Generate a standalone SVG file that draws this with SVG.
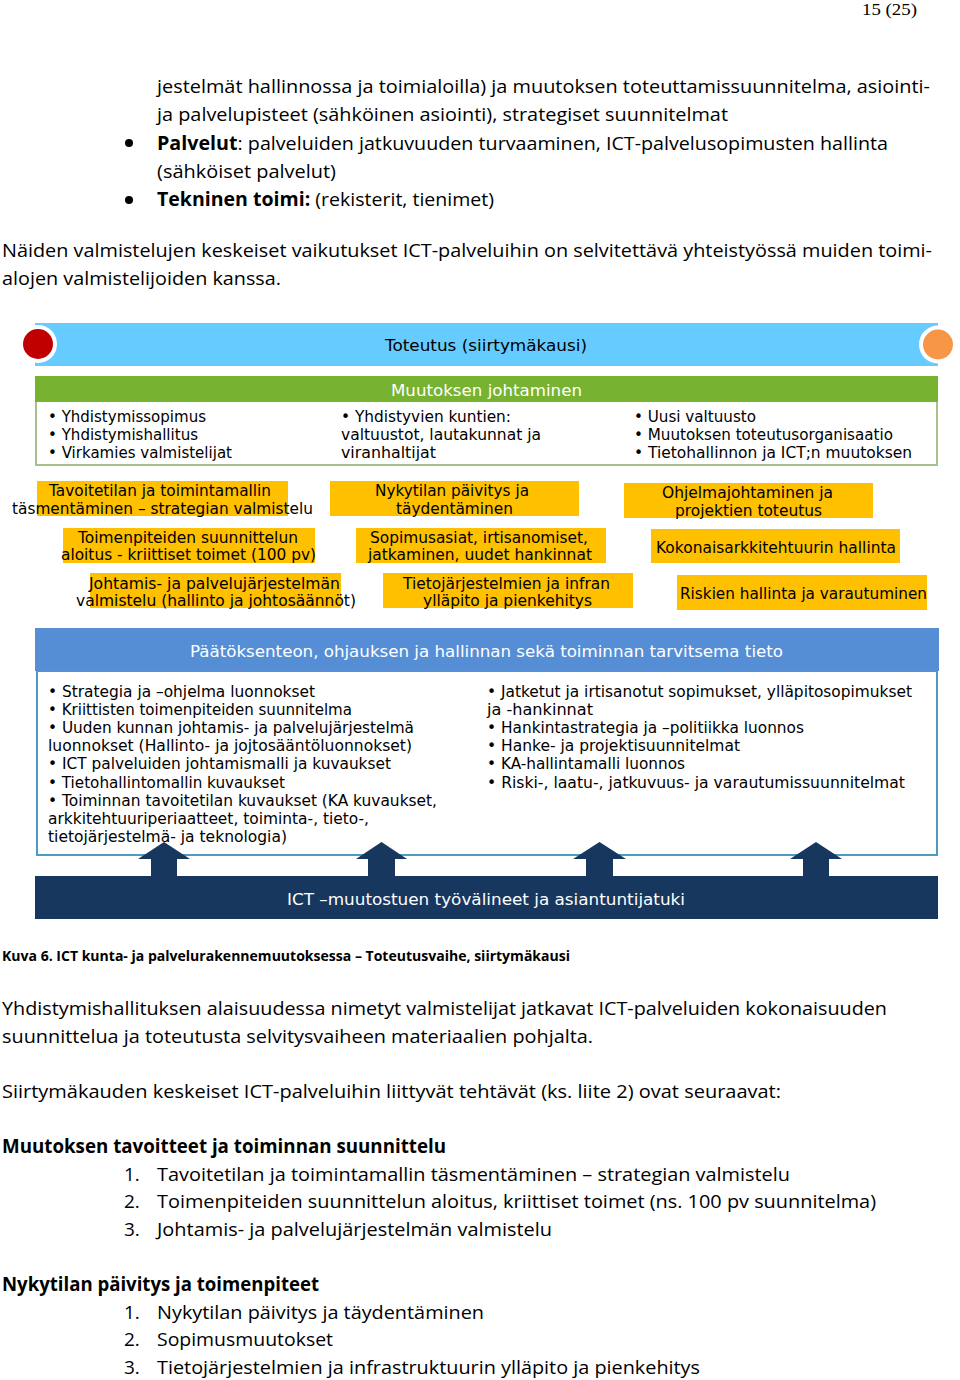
<svg xmlns="http://www.w3.org/2000/svg" width="960" height="1380" viewBox="0 0 960 1380">
<style>
.pg{font-family:"Liberation Serif",serif;font-size:16px;fill:#000}
.b{font-family:"Open Sans","Liberation Sans",sans-serif;font-size:19px;fill:#000}
.bb{font-family:"Open Sans","Liberation Sans",sans-serif;font-size:19px;font-weight:bold;fill:#000}
.cap{font-family:"Open Sans","Liberation Sans",sans-serif;font-size:13.5px;font-weight:bold;fill:#000}
.d{font-family:"DejaVu Sans","Verdana",sans-serif;font-size:15.5px;fill:#000}
.dw{font-family:"DejaVu Sans","Verdana",sans-serif;font-size:16px;fill:#fff}
.dk{font-family:"DejaVu Sans","Verdana",sans-serif;font-size:16px;fill:#000}
.y{fill:#FFC000}
.arrow{fill:#17375E}
</style>

<g id="page-text">
<text class="pg" x="862" y="15" textLength="55" lengthAdjust="spacingAndGlyphs">15 (25)</text>
<text class="b" x="157" y="93" textLength="773" lengthAdjust="spacingAndGlyphs">jestelmät hallinnossa ja toimialoilla) ja muutoksen toteuttamissuunnitelma, asiointi-</text>
<text class="b" x="157" y="121" textLength="571" lengthAdjust="spacingAndGlyphs">ja palvelupisteet (sähköinen asiointi), strategiset suunnitelmat</text>
<circle cx="129" cy="143" r="4" fill="#000"/>
<text class="b" x="157" y="150" textLength="731" lengthAdjust="spacingAndGlyphs"><tspan font-weight="bold">Palvelut</tspan>: palveluiden jatkuvuuden turvaaminen, ICT-palvelusopimusten hallinta</text>
<text class="b" x="157" y="178" textLength="179" lengthAdjust="spacingAndGlyphs">(sähköiset palvelut)</text>
<circle cx="129" cy="200" r="4" fill="#000"/>
<text class="b" x="157" y="206" textLength="337" lengthAdjust="spacingAndGlyphs"><tspan font-weight="bold">Tekninen toimi:</tspan> (rekisterit, tienimet)</text>
<text class="b" x="2" y="257" textLength="930" lengthAdjust="spacingAndGlyphs">Näiden valmistelujen keskeiset vaikutukset ICT-palveluihin on selvitettävä yhteistyössä muiden toimi-</text>
<text class="b" x="2" y="285" textLength="279" lengthAdjust="spacingAndGlyphs">alojen valmistelijoiden kanssa.</text>
</g>

<g id="toteutus-banner">
<rect x="35" y="323" width="903" height="43" fill="#66CCFF"/>
<circle cx="38" cy="344" r="19" fill="#fff"/>
<circle cx="38" cy="344" r="15" fill="#C00000"/>
<circle cx="938" cy="344.5" r="19" fill="#fff"/>
<circle cx="938" cy="344.5" r="15" fill="#F79646"/>
<text class="dk" x="385" y="351" textLength="202" lengthAdjust="spacingAndGlyphs">Toteutus (siirtymäkausi)</text>
</g>

<g id="muutoksen-johtaminen">
<rect x="36" y="401" width="901" height="64" fill="#fff" stroke="#A8C08A" stroke-width="2"/>
<rect x="35" y="376" width="903" height="26" fill="#77B330"/>
<text class="dw" x="391" y="396" textLength="191" lengthAdjust="spacingAndGlyphs">Muutoksen johtaminen</text>
<text class="d" x="48" y="422" textLength="158" lengthAdjust="spacingAndGlyphs">• Yhdistymissopimus</text>
<text class="d" x="48" y="440" textLength="150" lengthAdjust="spacingAndGlyphs">• Yhdistymishallitus</text>
<text class="d" x="48" y="458" textLength="184" lengthAdjust="spacingAndGlyphs">• Virkamies valmistelijat</text>
<text class="d" x="341" y="422" textLength="170" lengthAdjust="spacingAndGlyphs">• Yhdistyvien kuntien:</text>
<text class="d" x="341" y="440" textLength="200" lengthAdjust="spacingAndGlyphs">valtuustot, lautakunnat ja</text>
<text class="d" x="341" y="458" textLength="95" lengthAdjust="spacingAndGlyphs">viranhaltijat</text>
<text class="d" x="634" y="422" textLength="122" lengthAdjust="spacingAndGlyphs">• Uusi valtuusto</text>
<text class="d" x="634" y="440" textLength="259" lengthAdjust="spacingAndGlyphs">• Muutoksen toteutusorganisaatio</text>
<text class="d" x="634" y="458" textLength="278" lengthAdjust="spacingAndGlyphs">• Tietohallinnon ja ICT;n muutoksen</text>
</g>

<g id="box-tavoitetila">
<rect class="y" x="37" y="481" width="251" height="35"/>
<text class="d" x="49" y="496" textLength="222" lengthAdjust="spacingAndGlyphs">Tavoitetilan ja toimintamallin</text>
<text class="d" x="12" y="514" textLength="301" lengthAdjust="spacingAndGlyphs">täsmentäminen – strategian valmistelu</text>
</g>
<g id="box-nykytila">
<rect class="y" x="330" y="481" width="249" height="35"/>
<text class="d" x="375" y="496" textLength="154" lengthAdjust="spacingAndGlyphs">Nykytilan päivitys ja</text>
<text class="d" x="396" y="514" textLength="117" lengthAdjust="spacingAndGlyphs">täydentäminen</text>
</g>
<g id="box-ohjelmajohtaminen">
<rect class="y" x="624" y="483" width="249" height="35"/>
<text class="d" x="662" y="498" textLength="171" lengthAdjust="spacingAndGlyphs">Ohjelmajohtaminen ja</text>
<text class="d" x="675" y="516" textLength="147" lengthAdjust="spacingAndGlyphs">projektien toteutus</text>
</g>
<g id="box-toimenpiteet">
<rect class="y" x="63" y="528" width="252" height="35"/>
<text class="d" x="78" y="543" textLength="220" lengthAdjust="spacingAndGlyphs">Toimenpiteiden suunnittelun</text>
<text class="d" x="61" y="560" textLength="255" lengthAdjust="spacingAndGlyphs">aloitus - kriittiset toimet (100 pv)</text>
</g>
<g id="box-sopimusasiat">
<rect class="y" x="356" y="528" width="250" height="35"/>
<text class="d" x="370" y="543" textLength="218" lengthAdjust="spacingAndGlyphs">Sopimusasiat, irtisanomiset,</text>
<text class="d" x="368" y="560" textLength="224" lengthAdjust="spacingAndGlyphs">jatkaminen, uudet hankinnat</text>
</g>
<g id="box-kokonaisarkkitehtuuri">
<rect class="y" x="651" y="529" width="249" height="34"/>
<text class="d" x="656" y="553" textLength="240" lengthAdjust="spacingAndGlyphs">Kokonaisarkkitehtuurin hallinta</text>
</g>
<g id="box-johtamisjarjestelma">
<rect class="y" x="90" y="573" width="251" height="35"/>
<text class="d" x="89" y="589" textLength="251" lengthAdjust="spacingAndGlyphs">Johtamis- ja palvelujärjestelmän</text>
<text class="d" x="76" y="606" textLength="280" lengthAdjust="spacingAndGlyphs">valmistelu (hallinto ja johtosäännöt)</text>
</g>
<g id="box-tietojarjestelmat">
<rect class="y" x="383" y="573" width="250" height="35"/>
<text class="d" x="403" y="589" textLength="207" lengthAdjust="spacingAndGlyphs">Tietojärjestelmien ja infran</text>
<text class="d" x="423" y="606" textLength="169" lengthAdjust="spacingAndGlyphs">ylläpito ja pienkehitys</text>
</g>
<g id="box-riskit">
<rect class="y" x="677" y="575" width="250" height="35"/>
<text class="d" x="680" y="599" textLength="247" lengthAdjust="spacingAndGlyphs">Riskien hallinta ja varautuminen</text>
</g>

<g id="tieto">
<rect x="37" y="671" width="900" height="184" fill="#fff" stroke="#4A9CC0" stroke-width="2"/>
<rect x="35" y="628" width="904" height="43" fill="#558ED5"/>
<text class="dw" x="190" y="657" textLength="593" lengthAdjust="spacingAndGlyphs">Päätöksenteon, ohjauksen ja hallinnan sekä toiminnan tarvitsema tieto</text>
<text class="d" x="48" y="697" textLength="267" lengthAdjust="spacingAndGlyphs">• Strategia ja –ohjelma luonnokset</text>
<text class="d" x="48" y="715" textLength="304" lengthAdjust="spacingAndGlyphs">• Kriittisten toimenpiteiden suunnitelma</text>
<text class="d" x="48" y="733" textLength="366" lengthAdjust="spacingAndGlyphs">• Uuden kunnan johtamis- ja palvelujärjestelmä</text>
<text class="d" x="48" y="751" textLength="364" lengthAdjust="spacingAndGlyphs">luonnokset (Hallinto- ja jojtosääntöluonnokset)</text>
<text class="d" x="48" y="769" textLength="343" lengthAdjust="spacingAndGlyphs">• ICT palveluiden johtamismalli ja kuvaukset</text>
<text class="d" x="48" y="788" textLength="237" lengthAdjust="spacingAndGlyphs">• Tietohallintomallin kuvaukset</text>
<text class="d" x="48" y="806" textLength="389" lengthAdjust="spacingAndGlyphs">• Toiminnan tavoitetilan kuvaukset (KA kuvaukset,</text>
<text class="d" x="48" y="824" textLength="321" lengthAdjust="spacingAndGlyphs">arkkitehtuuriperiaatteet, toiminta-, tieto-,</text>
<text class="d" x="48" y="842" textLength="239" lengthAdjust="spacingAndGlyphs">tietojärjestelmä- ja teknologia)</text>
<text class="d" x="487" y="697" textLength="425" lengthAdjust="spacingAndGlyphs">• Jatketut ja irtisanotut sopimukset, ylläpitosopimukset</text>
<text class="d" x="487" y="715" textLength="106" lengthAdjust="spacingAndGlyphs">ja -hankinnat</text>
<text class="d" x="487" y="733" textLength="317" lengthAdjust="spacingAndGlyphs">• Hankintastrategia ja –politiikka luonnos</text>
<text class="d" x="487" y="751" textLength="253" lengthAdjust="spacingAndGlyphs">• Hanke- ja projektisuunnitelmat</text>
<text class="d" x="487" y="769" textLength="198" lengthAdjust="spacingAndGlyphs">• KA-hallintamalli luonnos</text>
<text class="d" x="487" y="788" textLength="418" lengthAdjust="spacingAndGlyphs">• Riski-, laatu-, jatkuvuus- ja varautumissuunnitelmat</text>
</g>

<g id="connectors">
<polygon class="arrow" points="151,877 151,859 138,859 164,842 190,859 177,859 177,877"/>
<polygon class="arrow" points="368,877 368,859 356,859 381.5,842 407,859 395,859 395,877"/>
<polygon class="arrow" points="586,877 586,859 573,859 599.5,842 626,859 613,859 613,877"/>
<polygon class="arrow" points="803,877 803,859 790,859 816,842 842,859 829,859 829,877"/>
</g>

<g id="ict-tuki">
<rect x="35" y="876" width="903" height="43" fill="#17375E"/>
<text class="dw" x="287" y="905" textLength="398" lengthAdjust="spacingAndGlyphs">ICT –muutostuen työvälineet ja asiantuntijatuki</text>
</g>

<g id="after-text">
<text class="cap" x="2" y="961" textLength="568" lengthAdjust="spacingAndGlyphs">Kuva 6. ICT kunta- ja palvelurakennemuutoksessa – Toteutusvaihe, siirtymäkausi</text>
<text class="b" x="2" y="1015" textLength="885" lengthAdjust="spacingAndGlyphs">Yhdistymishallituksen alaisuudessa nimetyt valmistelijat jatkavat ICT-palveluiden kokonaisuuden</text>
<text class="b" x="2" y="1043" textLength="591" lengthAdjust="spacingAndGlyphs">suunnittelua ja toteutusta selvitysvaiheen materiaalien pohjalta.</text>
<text class="b" x="2" y="1098" textLength="779" lengthAdjust="spacingAndGlyphs">Siirtymäkauden keskeiset ICT-palveluihin liittyvät tehtävät (ks. liite 2) ovat seuraavat:</text>
<text class="bb" x="2" y="1153" textLength="444" lengthAdjust="spacingAndGlyphs">Muutoksen tavoitteet ja toiminnan suunnittelu</text>
<text class="b" x="124" y="1181">1.</text>
<text class="b" x="157" y="1181" textLength="633" lengthAdjust="spacingAndGlyphs">Tavoitetilan ja toimintamallin täsmentäminen – strategian valmistelu</text>
<text class="b" x="124" y="1208">2.</text>
<text class="b" x="157" y="1208" textLength="719" lengthAdjust="spacingAndGlyphs">Toimenpiteiden suunnittelun aloitus, kriittiset toimet (ns. 100 pv suunnitelma)</text>
<text class="b" x="124" y="1236">3.</text>
<text class="b" x="157" y="1236" textLength="395" lengthAdjust="spacingAndGlyphs">Johtamis- ja palvelujärjestelmän valmistelu</text>
<text class="bb" x="2" y="1291" textLength="317" lengthAdjust="spacingAndGlyphs">Nykytilan päivitys ja toimenpiteet</text>
<text class="b" x="124" y="1319">1.</text>
<text class="b" x="157" y="1319" textLength="327" lengthAdjust="spacingAndGlyphs">Nykytilan päivitys ja täydentäminen</text>
<text class="b" x="124" y="1346">2.</text>
<text class="b" x="157" y="1346" textLength="176" lengthAdjust="spacingAndGlyphs">Sopimusmuutokset</text>
<text class="b" x="124" y="1374">3.</text>
<text class="b" x="157" y="1374" textLength="543" lengthAdjust="spacingAndGlyphs">Tietojärjestelmien ja infrastruktuurin ylläpito ja pienkehitys</text>
</g>
</svg>
